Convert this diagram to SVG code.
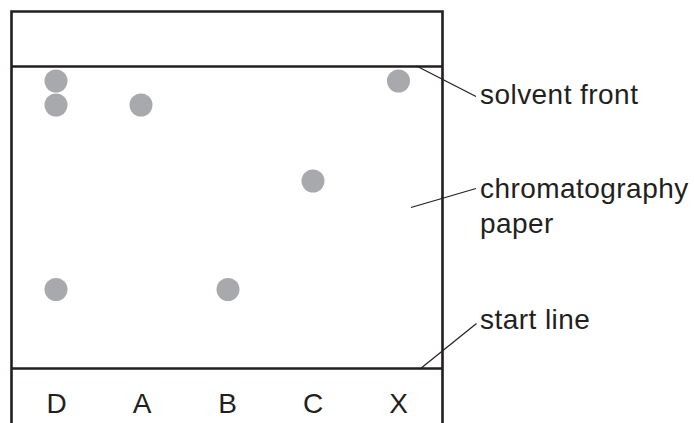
<svg xmlns="http://www.w3.org/2000/svg" width="694" height="423" viewBox="0 0 694 423">
<style>
.frame{stroke:#231f20;stroke-width:2.6;fill:none}
.lead{stroke:#231f20;stroke-width:1.2;fill:none}
.spot{fill:#a7a9ac}
text{font-family:"Liberation Sans",Arial,sans-serif;font-size:28px;fill:#231f20}
.lbl{letter-spacing:0.45px}
.col{text-anchor:middle}
</style>
<g id="paper">
<path class="frame" d="M11.5,423 V11.5 H442.5 V423"/>
<line class="frame" x1="11.5" y1="66.5" x2="442.5" y2="66.5"/>
<line class="frame" x1="11.5" y1="368.5" x2="442.5" y2="368.5"/>
</g>
<g id="spots">
<circle class="spot" cx="56" cy="81" r="11.5"/>
<circle class="spot" cx="56" cy="105" r="11.5"/>
<circle class="spot" cx="141" cy="105" r="11.5"/>
<circle class="spot" cx="313" cy="181" r="11.5"/>
<circle class="spot" cx="398.5" cy="81" r="11.5"/>
<circle class="spot" cx="56" cy="289.5" r="11.5"/>
<circle class="spot" cx="228" cy="289.5" r="11.5"/>
</g>
<g id="columns">
<text class="col" x="56.5" y="412.5">D</text>
<text class="col" x="142" y="412.5">A</text>
<text class="col" x="227.5" y="412.5">B</text>
<text class="col" x="313" y="412.5">C</text>
<text class="col" x="398.5" y="412.5">X</text>
</g>
<g id="connectors">
<line class="lead" x1="416.5" y1="66" x2="476" y2="96.5"/>
<line class="lead" x1="411" y1="207.5" x2="476" y2="188.5"/>
<line class="lead" x1="420" y1="369" x2="476.5" y2="323.5"/>
</g>
<g id="label-solvent-front"><text class="lbl" x="480" y="104">solvent front</text></g>
<g id="label-paper"><text class="lbl" x="480" y="198">chromatography</text><text class="lbl" x="480" y="233">paper</text></g>
<g id="label-start-line"><text class="lbl" x="480" y="329">start line</text></g>
</svg>
